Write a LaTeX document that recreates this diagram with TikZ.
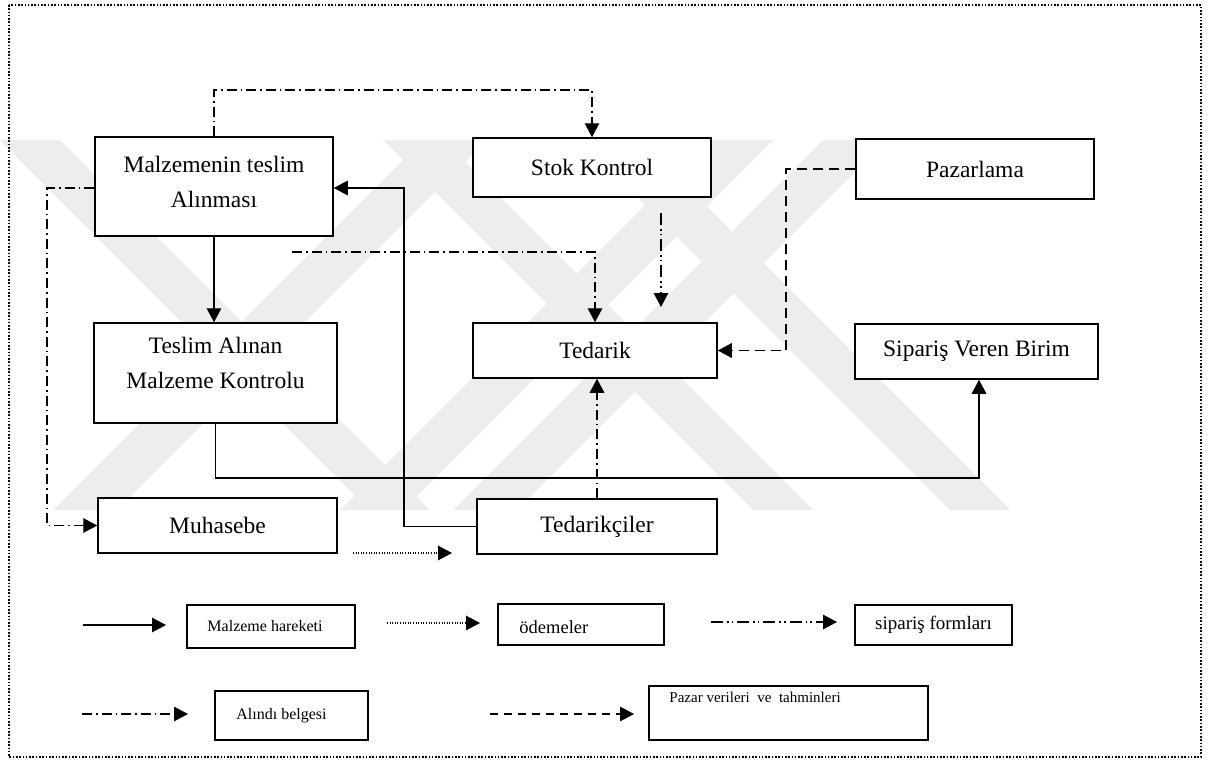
\documentclass[tikz,border=0pt]{standalone}
\usepackage{fontspec}
\setmainfont{Liberation Serif}
\usetikzlibrary{arrows.meta,calc}
\tikzset{
  box/.style={draw, line width=1.5pt, fill=white, inner sep=0pt, rectangle},
  mtxt/.style={font=\fontsize{23.5}{35}\selectfont, align=center, inner sep=0pt},
  conn/.style={line width=1.4pt},
  arr/.style={-{Triangle[length=14pt,width=14.5pt]}},
  adot/.style={dash pattern=on 10pt off 4pt on 1.6pt off 4pt},
  addot/.style={dash pattern=on 12pt off 4pt on 1.6pt off 3pt on 1.6pt off 4pt},
  dsh/.style={dash pattern=on 10pt off 6pt},
  dtt/.style={dash pattern=on 1pt off 1.6pt},
  wm/.style={fill=black!7, draw=none},
}
\begin{document}
\begin{tikzpicture}[x=1pt,y=-1pt]
\useasboundingbox (0,0) rectangle (1220,760);
% watermark (faint)
\begin{scope}
\clip (0,140) rectangle (1220,510);
% rising bands
\fill[wm] (53,510) -- (117,510) -- (487,140) -- (423,140) -- cycle;
\fill[wm] (340,510) -- (403,510) -- (773,140) -- (710,140) -- cycle;
\fill[wm] (453,510) -- (517,510) -- (887,140) -- (823,140) -- cycle;
% falling bands
\fill[wm] (0,140) -- (60,140) -- (430,510) -- (370,510) -- cycle;
\fill[wm] (383,140) -- (443,140) -- (813,510) -- (753,510) -- cycle;
\fill[wm] (580,140) -- (640,140) -- (1010,510) -- (950,510) -- cycle;
\end{scope}
% border
\draw[line width=1.6pt, dash pattern=on 1.6pt off 1.7pt] (9,5) rectangle (1201,757);
% main boxes
\node[box, minimum width=238pt, minimum height=99pt,
  label={[mtxt, yshift=5pt]center:{Malzemenin teslim\\Alınması}}] (malz) at (214,186.5) {};
\node[box, mtxt, minimum width=238pt, minimum height=59pt] (stok) at (592,167.5) {Stok Kontrol};
\node[box, mtxt, minimum width=238pt, minimum height=60pt] (paz) at (975,169) {Pazarlama};
\node[box, minimum width=243pt, minimum height=100pt,
  label={[mtxt, yshift=10pt]center:{Teslim Alınan\\Malzeme Kontrolu}}] (teslim) at (215.5,373) {};
\node[box, mtxt, minimum width=244pt, minimum height=55pt] (ted) at (595,350.5) {Tedarik};
\node[box, mtxt, minimum width=243pt, minimum height=55pt] (sip) at (976.5,351.5) {Sipariş Veren Birim};
\node[box, mtxt, minimum width=239pt, minimum height=55pt] (muh) at (217.5,525.5) {Muhasebe};
\node[box, mtxt, minimum width=240pt, minimum height=55pt] (tedc) at (597,526.5) {Tedarikçiler};
% coordinates for bends and free ends
\coordinate (t1) at (592,90);
\coordinate (l1) at (47,188);
\coordinate (s1) at (404,188);
\coordinate (h1) at (979,478);
\coordinate (f1) at (292,252);
\coordinate (g1) at (661,213);
\coordinate (g2) at (661,307);
\coordinate (p1) at (786,169);
\coordinate (d1) at (353,553);
\coordinate (d2) at (452,553);
% connectors
\draw[conn, adot, arr] (malz.north) |- (t1) -- (stok.north);
\draw[conn, adot, arr] (malz.west |- l1) -- (l1) |- (muh.west);
\draw[conn, arr] (tedc.west) -| (s1) -- (malz.east |- s1);
\draw[conn, arr] (malz.south) -- (malz.south |- teslim.north);
\draw[conn, arr] (teslim.south) |- (h1) -- (sip.south -| h1);
\draw[conn, adot, arr] (f1) -| (ted.north);
\draw[conn, addot, arr] (g1) -- (g2);
\draw[conn, dsh, arr] (paz.west) -- (p1) |- (ted.east);
\draw[conn, adot, arr] (tedc.north) -- (ted.south -| tedc.north);
\draw[conn, dtt, arr] (d1) -- (d2);
% legend
\node[box, minimum width=168pt, minimum height=43pt,
  label={[inner sep=0pt, xshift=-6pt, font=\fontsize{16}{18}\selectfont]center:Malzeme hareketi}] (lmh) at (271,626.5) {};
\node[box, minimum width=166pt, minimum height=41pt,
  label={[inner sep=0pt, anchor=west, xshift=22pt, yshift=-3pt, font=\fontsize{18.5}{20}\selectfont]west:ödemeler}] (lod) at (581,624.5) {};
\node[box, minimum width=157pt, minimum height=40pt,
  label={[inner sep=0pt, font=\fontsize{19}{21}\selectfont]center:sipariş formları}] (lsf) at (933.5,625) {};
\node[box, minimum width=153pt, minimum height=49pt,
  label={[inner sep=0pt, xshift=-10pt, font=\fontsize{16}{18}\selectfont]center:Alındı belgesi}] (lab) at (291.5,715.5) {};
\node[box, minimum width=279pt, minimum height=54pt,
  label={[inner sep=0pt, anchor=west, xshift=21pt, yshift=16pt, font=\fontsize{15}{17}\selectfont]west:Pazar verileri\ \ ve\ \ tahminleri}] (lpv) at (788.5,713) {};
\coordinate (a1) at (83,625);   \coordinate (a2) at (166,625);
\coordinate (b1) at (387,623);  \coordinate (b2) at (480,623);
\coordinate (c1) at (711,622);  \coordinate (c2) at (837,622);
\coordinate (e1) at (82,714);   \coordinate (e2) at (188,714);
\coordinate (k1) at (490,714);  \coordinate (k2) at (634,714);
\draw[conn, arr] (a1) -- (a2);
\draw[conn, dtt, arr] (b1) -- (b2);
\draw[conn, addot, arr] (c1) -- (c2);
\draw[conn, adot, arr] (e1) -- (e2);
\draw[conn, dash pattern=on 8pt off 6pt, arr] (k1) -- (k2);
\end{tikzpicture}
\end{document}
